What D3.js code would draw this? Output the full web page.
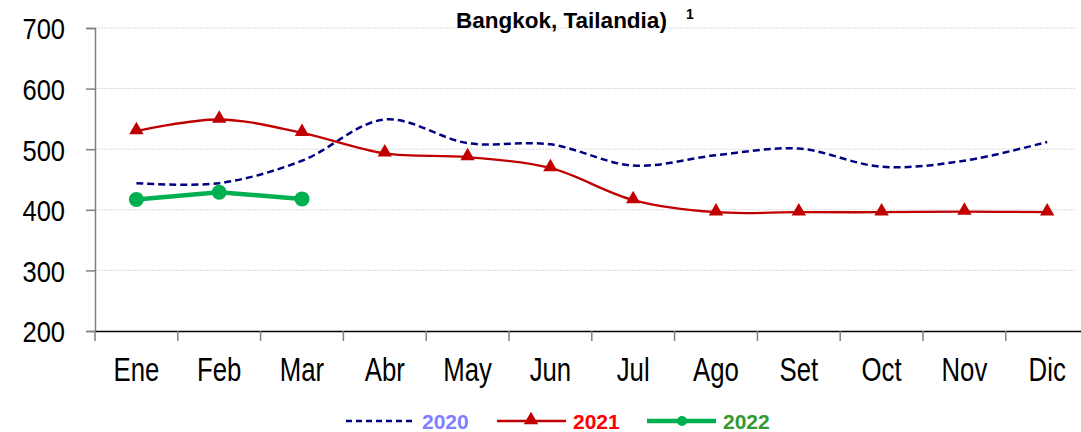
<!DOCTYPE html>
<html>
<head>
<meta charset="utf-8">
<script src="https://cdn.jsdelivr.net/npm/d3@7"></script>
<style>
  body { margin: 0; background: #fff; }
  svg { display: block; }
</style>
</head>
<body>
<div id="chart"></div>
<script>
// categories and values
var months = ["Ene", "Feb", "Mar", "Abr", "May", "Jun", "Jul", "Ago", "Set", "Oct", "Nov", "Dic"];
var yTicks = [200, 300, 400, 500, 600, 700];
var v2020 = [444, 444, 481, 549, 510, 508, 473, 490, 501, 471, 481, 512];
var v2021 = [530, 549, 527, 493, 487, 469, 416, 396, 396, 396, 397, 396];
var v2022 = [417, 429, 418];

var W = 1081, H = 432;
var margin = { top: 28, left: 95, bottom: 101 };
var bandW = 82.8;
var plotH = H - margin.top - margin.bottom;
var font = "Arial, 'Liberation Sans', sans-serif";

var svg = d3.select("#chart").append("svg")
    .attr("width", W)
    .attr("height", H);

var x = d3.scaleBand()
    .domain(months)
    .range([margin.left, margin.left + bandW * months.length])
    .padding(0);

var y = d3.scaleLinear()
    .domain([200, 700])
    .range([margin.top + plotH, margin.top]);

var cx = function(i) { return x(months[i]) + x.bandwidth() / 2; };

// squeeze text horizontally to mimic a narrow font
function narrow(sel, k) {
    sel.each(function() {
        var len = this.getComputedTextLength();
        d3.select(this)
            .attr("textLength", len * k)
            .attr("lengthAdjust", "spacingAndGlyphs");
    });
}

// grid
svg.append("g")
    .selectAll("line")
    .data(yTicks.slice(1))
    .join("line")
    .attr("x1", margin.left)
    .attr("x2", W - 6)
    .attr("y1", d => y(d))
    .attr("y2", d => y(d))
    .attr("stroke", "#d9d9d9")
    .attr("stroke-width", 1)
    .attr("stroke-dasharray", "2,1");

// y axis
var yAxis = svg.append("g")
    .attr("transform", "translate(" + margin.left + ",0)")
    .call(d3.axisLeft(y).tickValues(yTicks).tickSize(9).tickPadding(21));
yAxis.select(".domain").attr("stroke", "#808080").attr("stroke-width", 1.5);
yAxis.selectAll(".tick line").attr("stroke", "#808080").attr("stroke-width", 1.5);
yAxis.selectAll(".tick text")
    .attr("font-family", font)
    .attr("font-size", 30)
    .attr("fill", "#000")
    .attr("dy", "0.36em")
    .call(narrow, 0.85);

// x axis
var xAxis = svg.append("g")
    .attr("transform", "translate(0," + y(200) + ")")
    .call(d3.axisBottom(x).tickSize(0).tickPadding(27));
xAxis.select(".domain").attr("stroke", "#000").attr("stroke-width", 1.5);
xAxis.selectAll(".tick text")
    .attr("font-family", font)
    .attr("font-size", 33)
    .attr("fill", "#000")
    .call(narrow, 0.78);

// x tick marks at band boundaries
svg.append("g")
    .selectAll("line")
    .data(months)
    .join("line")
    .attr("x1", d => x(d))
    .attr("x2", d => x(d))
    .attr("y1", y(200))
    .attr("y2", y(200) + 10)
    .attr("stroke", "#808080")
    .attr("stroke-width", 1.5);

// lines
var smooth = d3.line()
    .x((d, i) => cx(i))
    .y(d => y(d))
    .curve(d3.curveCatmullRom.alpha(0.5));

var straight = d3.line()
    .x((d, i) => cx(i))
    .y(d => y(d));

svg.append("path")
    .datum(v2020)
    .attr("d", smooth)
    .attr("fill", "none")
    .attr("stroke", "#000080")
    .attr("stroke-width", 2.5)
    .attr("stroke-dasharray", "7,4");

svg.append("path")
    .datum(v2021)
    .attr("d", smooth)
    .attr("fill", "none")
    .attr("stroke", "#C00000")
    .attr("stroke-width", 2.3);

var tri = d3.symbol().type(d3.symbolTriangle).size(90);
svg.append("g")
    .selectAll("path")
    .data(v2021)
    .join("path")
    .attr("d", tri)
    .attr("transform", (d, i) => "translate(" + cx(i) + "," + (y(d) - 1) + ")")
    .attr("fill", "#C00000");

svg.append("path")
    .datum(v2022)
    .attr("d", straight)
    .attr("fill", "none")
    .attr("stroke", "#00B050")
    .attr("stroke-width", 4.5);

svg.append("g")
    .selectAll("circle")
    .data(v2022)
    .join("circle")
    .attr("cx", (d, i) => cx(i))
    .attr("cy", d => y(d))
    .attr("r", 7.5)
    .attr("fill", "#00B050");

// title (top line cut off by the frame)
svg.append("text")
    .attr("x", 566)
    .attr("y", -6)
    .attr("text-anchor", "middle")
    .attr("font-family", font)
    .attr("font-weight", "bold")
    .attr("font-size", 22.5)
    .attr("fill", "#000")
    .text("Precio de exportación del arroz (Blanco 5% quebrado, FOB");
svg.append("text")
    .attr("x", 456)
    .attr("y", 28)
    .attr("font-family", font)
    .attr("font-weight", "bold")
    .attr("font-size", 22.5)
    .attr("fill", "#000")
    .text("Bangkok, Tailandia)");
svg.append("text")
    .attr("x", 686)
    .attr("y", 19)
    .attr("font-family", font)
    .attr("font-weight", "bold")
    .attr("font-size", 14)
    .attr("fill", "#000")
    .text("1");

// legend
var legend = [
    { name: "2020", color: "#000080", text: "#8080FF", x0: 346, dash: "6,4", w: 2.5, mark: null },
    { name: "2021", color: "#C00000", text: "#FF0000", x0: 497, dash: null, w: 2.3, mark: "tri" },
    { name: "2022", color: "#00B050", text: "#339933", x0: 647, dash: null, w: 4.5, mark: "circle" }
];
var ly = 421;
var lg = svg.append("g").selectAll("g").data(legend).join("g");
lg.append("line")
    .attr("x1", d => d.x0)
    .attr("x2", d => d.x0 + 69)
    .attr("y1", ly)
    .attr("y2", ly)
    .attr("stroke", d => d.color)
    .attr("stroke-width", d => d.w)
    .attr("stroke-dasharray", d => d.dash);
lg.filter(d => d.mark === "tri").append("path")
    .attr("d", tri)
    .attr("transform", d => "translate(" + (d.x0 + 34) + "," + (ly - 1) + ")")
    .attr("fill", d => d.color);
lg.filter(d => d.mark === "circle").append("circle")
    .attr("cx", d => d.x0 + 35)
    .attr("cy", ly)
    .attr("r", 5)
    .attr("fill", d => d.color);
lg.append("text")
    .attr("x", d => d.x0 + 76)
    .attr("y", ly + 7.5)
    .attr("font-family", font)
    .attr("font-weight", "bold")
    .attr("font-size", 21)
    .attr("fill", d => d.text)
    .text(d => d.name);
</script>
</body>
</html>
